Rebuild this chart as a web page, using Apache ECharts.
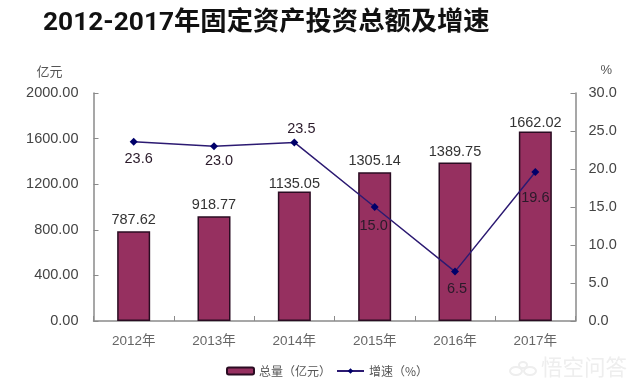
<!DOCTYPE html>
<html><head><meta charset="utf-8">
<style>html,body{margin:0;padding:0;background:#fff}#c{width:640px;height:390px}</style>
<script src="https://cdn.jsdelivr.net/npm/echarts@6/dist/echarts.min.js"></script>
</head><body><div id="c"></div>
<script>
var titleText = '2012-2017年固定资产投资总额及增速';
var categories = ['2012年','2013年','2014年','2015年','2016年','2017年'];
var totals = [787.62, 918.77, 1135.05, 1305.14, 1389.75, 1662.02];
var growth = [23.6, 23.0, 23.5, 15.0, 6.5, 19.6];
var growthLabelOffsets = [[5,17],[5,15],[7,-13],[-1,19],[2,17],[0,26]];
var totalLabelLift = [0,0,-4,0,-1,-3];
var leftTicks = {min:0,max:2000,interval:400};
var rightTicks = {min:0,max:30,interval:5};
var FONT = '"Liberation Sans","Noto Sans CJK SC",sans-serif';
var chart = echarts.init(document.getElementById('c'),null,{renderer:'canvas'});
var axisLine = {show:true,lineStyle:{color:'#8a8a8a',width:1.5}};
var axisTick = {show:true,inside:true,length:5,lineStyle:{color:'#8a8a8a',width:1}};
chart.setOption({
  animation:false,
  backgroundColor:'#fff',
  title:{text:titleText,left:38,top:5,textStyle:{fontFamily:'Roboto,"Noto Sans CJK SC",sans-serif',fontSize:26.3,fontWeight:'bold',color:'#111'}},
  grid:{left:93.5,right:64.5,top:93,bottom:69,containLabel:false},
  legend:{top:360,left:221,itemGap:5,itemWidth:27,itemHeight:7,
    textStyle:{fontFamily:'"Noto Sans CJK SC",sans-serif',fontSize:12,color:'#555'},
    data:['总量（亿元）','增速（%）']},
  xAxis:{type:'category',data:categories,boundaryGap:true,
    axisLine:axisLine,axisTick:Object.assign({alignWithLabel:false},axisTick),
    axisLabel:{fontFamily:FONT,fontSize:13.5,color:'#666',margin:14},splitLine:{show:false}},
  yAxis:[
    {type:'value',min:leftTicks.min,max:leftTicks.max,interval:leftTicks.interval,position:'left',
     name:'亿元',nameGap:14,nameTextStyle:{fontFamily:FONT,fontSize:13,color:'#555',align:'right',padding:[0,31,0,0]},
     axisLine:axisLine,axisTick:axisTick,splitLine:{show:false},
     axisLabel:{fontFamily:FONT,fontSize:14.5,color:'#444',margin:15,formatter:function(v){return v.toFixed(2);}}},
    {type:'value',min:rightTicks.min,max:rightTicks.max,interval:rightTicks.interval,position:'right',
     name:'%',nameGap:16,nameTextStyle:{fontFamily:FONT,fontSize:13,color:'#555',align:'left',padding:[0,0,0,25]},
     axisLine:axisLine,axisTick:axisTick,splitLine:{show:false},
     axisLabel:{fontFamily:FONT,fontSize:14.5,color:'#444',margin:13,formatter:function(v){return v.toFixed(1);}}}
  ],
  series:[
    {name:'总量（亿元）',type:'bar',yAxisIndex:0,barWidth:33,
     data:totals.map(function(v,i){return {value:v,label:{offset:[0,-totalLabelLift[i]]}};}),
     itemStyle:{color:'#963060',borderColor:'#2a0c22',borderWidth:1.5},
     label:{show:true,position:'top',distance:4,fontFamily:FONT,fontSize:14.5,color:'#333',formatter:function(p){return p.value.toFixed(2);}}},
    {name:'增速（%）',type:'line',yAxisIndex:1,symbol:'diamond',symbolSize:8,
     data:growth.map(function(v,i){return {value:v,label:{offset:growthLabelOffsets[i]}};}),
     lineStyle:{color:'#2c1a72',width:1.5},itemStyle:{color:'#00006a'},
     label:{show:true,position:'inside',fontFamily:FONT,fontSize:14.5,color:'#2a1a2a',formatter:function(p){return p.value.toFixed(1);}},
     z:5}
  ],
  graphic:[
    {type:'text',left:541,top:356,silent:true,style:{text:'悟空问答',fontFamily:'"Noto Sans CJK SC",sans-serif',fontSize:21.5,fill:'#eeeeee'}},
    {type:'ellipse',silent:true,shape:{cx:516,cy:371,rx:6,ry:4},style:{fill:'none',stroke:'#eeeeee',lineWidth:2}},
    {type:'ellipse',silent:true,shape:{cx:530,cy:371,rx:6,ry:4},style:{fill:'none',stroke:'#eeeeee',lineWidth:2}},
    {type:'ellipse',silent:true,shape:{cx:523,cy:365,rx:4,ry:3},style:{fill:'none',stroke:'#eeeeee',lineWidth:2}}
  ]
});
</script></body></html>
